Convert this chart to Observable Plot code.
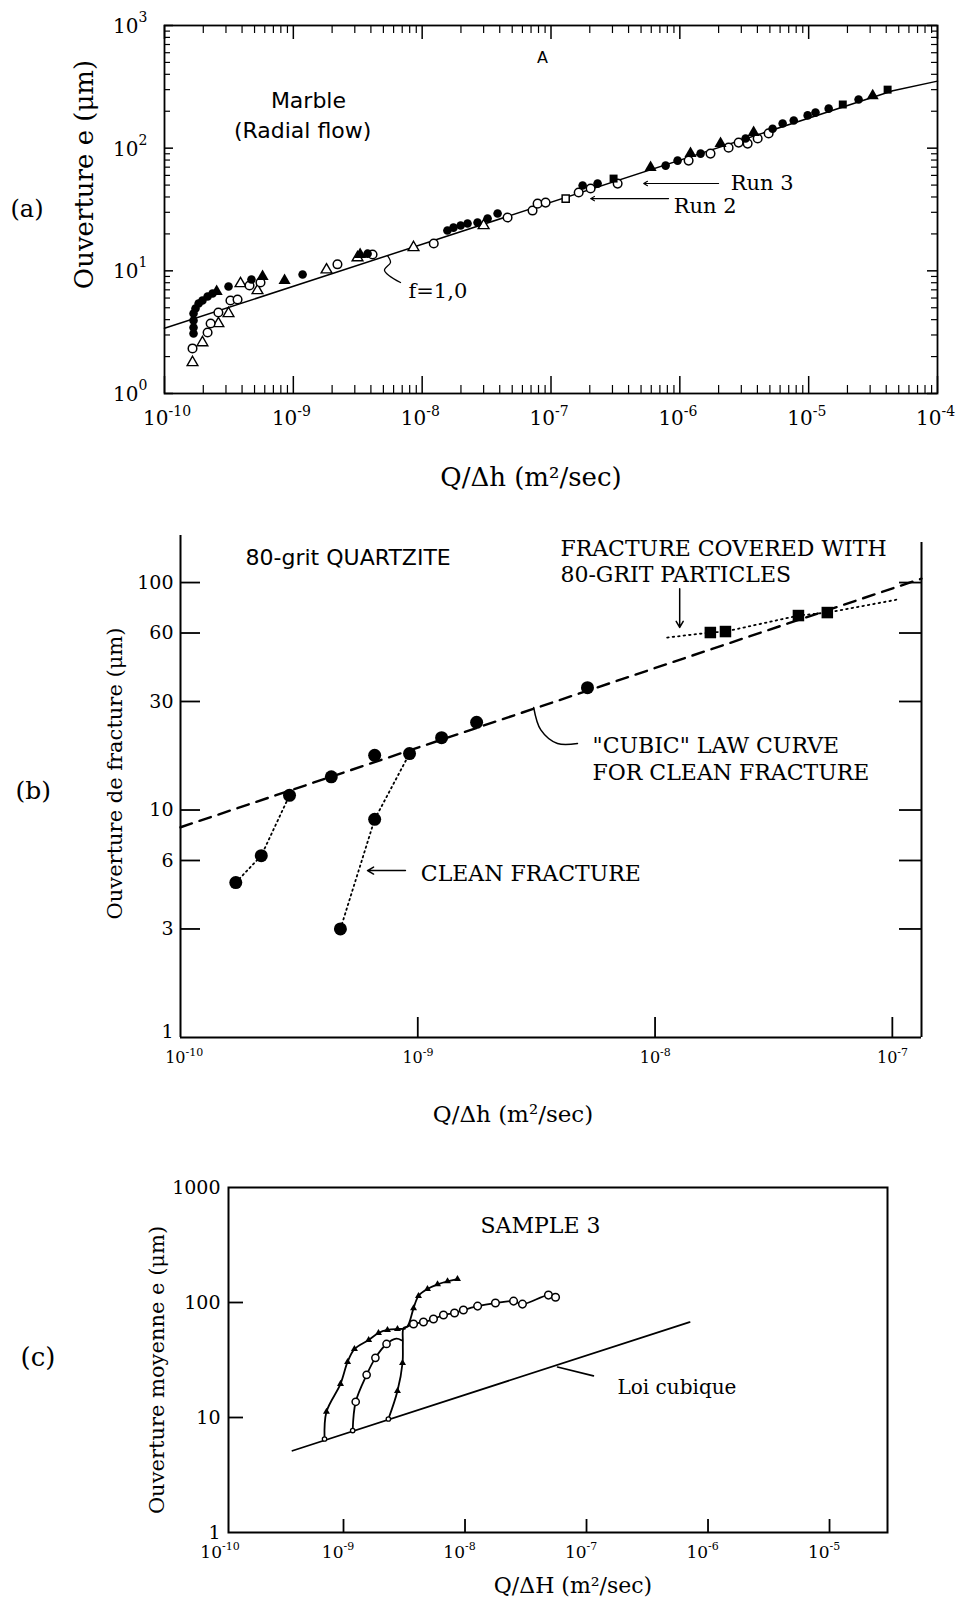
<!DOCTYPE html>
<html><head><meta charset="utf-8">
<script src="https://cdn.jsdelivr.net/npm/d3@7"></script>
<script src="https://cdn.jsdelivr.net/npm/@observablehq/plot@0.6"></script>
<style>
body{margin:0;background:#fff}
#fig{width:962px;height:1609px;background:#fff}
#fig svg{display:block;overflow:visible}
</style></head><body><div id="fig"></div>
<script>
// ---------------- Panel (a) data : Marble, radial flow ----------------
const aFilledCircleQ = [1.68e-10,1.68e-10,1.68e-10,1.68e-10,1.74e-10,1.84e-10,1.97e-10,2.16e-10,2.36e-10,3.14e-10,4.73e-10,1.18e-9,3.77e-9,1.57e-8,1.75e-8,1.99e-8,2.25e-8,2.69e-8,3.22e-8,3.85e-8,1.76e-7,2.30e-7,7.76e-7,9.61e-7,1.45e-6,3.24e-6,5.25e-6,6.28e-6,7.66e-6,9.82e-6,1.13e-5,1.43e-5,2.44e-5];
const aFilledCircleE = [3.08,3.45,3.94,4.49,4.93,5.41,5.73,6.18,6.53,7.45,8.49,9.33,13.8,21.3,22.5,23.4,24.3,24.8,26.7,29.3,49.6,51.4,72.1,79.2,90.3,120,144,159,168,185,195,210,249];
const aOpenCircleQ = [1.65e-10,2.16e-10,2.28e-10,2.62e-10,3.25e-10,3.69e-10,4.57e-10,5.56e-10,2.20e-9,4.12e-9,1.23e-8,4.6e-8,7.19e-8,7.87e-8,9.08e-8,1.64e-7,2.03e-7,3.29e-7,1.17e-6,1.73e-6,2.39e-6,2.86e-6,3.36e-6,4.02e-6,4.89e-6];
const aOpenCircleE = [2.33,3.14,3.72,4.57,5.73,5.84,7.59,8.03,11.3,13.6,16.7,27.2,31.0,35.3,36.0,43.5,46.9,51.4,79.2,90.3,101,111,109,120,132];
const aOpenTriangleQ = [1.65e-10,1.97e-10,2.62e-10,3.14e-10,3.89e-10,5.27e-10,1.81e-9,3.15e-9,8.57e-9,3.0e-8];
const aOpenTriangleE = [1.79,2.60,3.72,4.49,7.88,6.91,10.2,12.8,15.5,23.4];
const aFilledTriangleQ = [2.54e-10,5.77e-10,8.55e-10,3.3e-9,5.93e-7,1.21e-6,2.07e-6,3.74e-6,3.14e-5];
const aFilledTriangleE = [6.78,9.0,8.34,13.6,69.5,90.3,109,134,268];
const aFilledSquareQ = [3.06e-7,1.84e-5,4.1e-5];
const aFilledSquareE = [56.5,227,300];
const aOpenSquareQ = [1.30e-7];
const aOpenSquareE = [38.8];
const aFitQ = [1e-10,4.5e-5,1e-4];          // f = 1,0 curve
const aFitE = [3.4,294,352];
const aSquiggleQ = [5.38e-9,5.68e-9,5.1e-9,6.79e-9];
const aSquiggleE = [13.3,11.7,10.1,8.03];
const aXExp = [-10,-9,-8,-7,-6,-5,-4];      // tick labels 10^n
const aYExp = [0,1,2,3];

// ---------------- Panel (b) data : 80-grit quartzite ----------------
const bBranch1Q = [1.71e-10,2.19e-10,2.88e-10];
const bBranch1E = [4.8,6.3,11.6];
const bBranch2Q = [4.72e-10,6.58e-10,9.23e-10];
const bBranch2E = [3.0,9.1,17.7];
const bCleanQ = [1.71e-10,2.19e-10,2.88e-10,4.32e-10,6.58e-10,9.23e-10,1.26e-9,1.77e-9,5.19e-9,4.72e-10,6.58e-10];
const bCleanE = [4.8,6.3,11.6,14.0,17.4,17.7,20.8,24.3,34.5,3.0,9.1];
const bGritQ = [1.71e-8,1.98e-8,4.02e-8,5.32e-8];
const bGritE = [60.3,60.9,71.6,73.8];
const bGritLineQ = [1.125e-8,1.71e-8,1.98e-8,4.02e-8,5.32e-8,1.05e-7];
const bGritLineE = [57.3,60.3,60.9,71.6,73.8,84.2];
const bCubicQ = [1e-10,1.327e-7];
const bCubicE = [8.4,104];
const bCubicLeaderQ = [4.71e-9,3.88e-9,3.3e-9,3.08e-9];
const bCubicLeaderE = [19.6,19.6,22.5,28.2];
const bYTicks = [3,6,10,30,60,100];
const bYTickLabels = ["3","6","10","30","60","100"];
const bXExp = [-10,-9,-8,-7];

// ---------------- Panel (c) data : Sample 3 ----------------
const cCurve1Q = [6.98e-10,7.24e-10,9.45e-10,1.08e-9,1.23e-9,1.61e-9,1.94e-9,2.30e-9,2.78e-9,3.2e-9];
const cCurve1E = [6.5,11.2,19.6,30.4,39.4,47.2,54.3,57.7,58.8,59];
const cCurve2Q = [1.19e-9,1.26e-9,1.55e-9,1.83e-9,2.26e-9,2.72e-9,3.0e-9];
const cCurve2E = [7.7,13.7,23.5,33.0,43.6,48.5,47];
const cCurve3Q = [2.34e-9,2.78e-9,3.06e-9,3.08e-9,3.12e-9,3.37e-9,3.77e-9,4.14e-9,4.91e-9,5.94e-9,7.18e-9,8.67e-9];
const cCurve3E = [9.7,17,29.8,44.5,60,62.4,89,114,131,144,153,160];
const cOpenQ = [3.2e-9,3.77e-9,4.55e-9,5.5e-9,6.65e-9,8.2e-9,9.7e-9,1.27e-8,1.78e-8,2.51e-8,2.97e-8,4.86e-8,5.56e-8];
const cOpenE = [60,65,67.6,71.8,77.8,81,86,93,98.9,102.8,96.8,116,111];
const cCubicQ = [3.8e-10,7.05e-7];
const cCubicE = [5.14,67.6];
const cXExp = [-10,-9,-8,-7,-6,-5];
const cYTicks = [1,10,100,1000];
const cYTickLabels = ["1","10","100","1000"];

// ---------------- helpers ----------------
const SERIF = "DejaVu Serif", SANS = "DejaVu Sans";
const pts = (qs, es) => qs.map((q, i) => ({q, e: es[i]}));
const minorTicks = (lo, hi) => { const o = []; for (let p = lo; p < hi; p++) for (let k = 2; k <= 9; k++) o.push(k * 10 ** p); return o; };
const T = (o) => Object.assign({fill: "black", fontFamily: SERIF}, o);

// ================= Panel (a) =================
const A = {w: 962, h: 505, t: 25, r: 25, b: 112, l: 164};
const aW = A.w - A.l - A.r, aH = A.h - A.t - A.b;
const aXMajor = aXExp.map(d => 10 ** d), aXMinor = minorTicks(-10, -4);
const aYMajor = aYExp.map(d => 10 ** d), aYMinor = minorTicks(0, 3);
const plotA = Plot.plot({
  width: A.w, height: A.h, marginTop: A.t, marginRight: A.r, marginBottom: A.b, marginLeft: A.l,
  x: {type: "log", domain: [1e-10, 1e-4], axis: null},
  y: {type: "log", domain: [1, 1000], axis: null},
  style: {background: "white", overflow: "visible", color: "black"},
  marks: [
    Plot.frame({stroke: "black", strokeWidth: 1.8}),
    Plot.tickX(aXMajor, {x: d => d, insetTop: aH - 17, strokeWidth: 1.5}),
    Plot.tickX(aXMinor, {x: d => d, insetTop: aH - 8, strokeWidth: 1.2}),
    Plot.tickX(aXMajor, {x: d => d, insetBottom: aH - 14, strokeWidth: 1.5}),
    Plot.tickX(aXMinor, {x: d => d, insetBottom: aH - 8, strokeWidth: 1.2}),
    Plot.tickY(aYMajor, {y: d => d, insetRight: aW - 9, strokeWidth: 1.5}),
    Plot.tickY(aYMinor, {y: d => d, insetRight: aW - 6, strokeWidth: 1.2}),
    Plot.tickY(aYMajor, {y: d => d, insetLeft: aW - 10, strokeWidth: 1.5}),
    Plot.tickY(aYMinor, {y: d => d, insetLeft: aW - 6, strokeWidth: 1.2}),
    Plot.line(pts(aFitQ, aFitE), {x: "q", y: "e", stroke: "black", strokeWidth: 1.5}),
    Plot.line(pts(aSquiggleQ, aSquiggleE), {x: "q", y: "e", stroke: "black", strokeWidth: 1.3, curve: "catmull-rom"}),
    Plot.dot(pts(aOpenTriangleQ, aOpenTriangleE), {x: "q", y: "e", symbol: "triangle", r: 4, fill: "white", stroke: "black", strokeWidth: 1.4}),
    Plot.dot(pts(aOpenCircleQ, aOpenCircleE), {x: "q", y: "e", symbol: "circle", r: 4.3, fill: "white", stroke: "black", strokeWidth: 1.5}),
    Plot.dot(pts(aOpenSquareQ, aOpenSquareE), {x: "q", y: "e", symbol: "square", r: 4, fill: "white", stroke: "black", strokeWidth: 1.5}),
    Plot.dot(pts(aFilledCircleQ, aFilledCircleE), {x: "q", y: "e", symbol: "circle", r: 4.3, fill: "black"}),
    Plot.dot(pts(aFilledTriangleQ, aFilledTriangleE), {x: "q", y: "e", symbol: "triangle", r: 4.5, fill: "black"}),
    Plot.dot(pts(aFilledSquareQ, aFilledSquareE), {x: "q", y: "e", symbol: "square", r: 4.5, fill: "black"}),
    // tick labels
    Plot.text(aXExp, T({x: d => 10 ** d, frameAnchor: "bottom", dy: 31, dx: 4, text: () => "10", textAnchor: "end", fontSize: 20})),
    Plot.text(aXExp, T({x: d => 10 ** d, frameAnchor: "bottom", dy: 22, dx: 4, text: d => String(d), textAnchor: "start", fontSize: 14})),
    Plot.text(aYExp, T({y: d => 10 ** d, frameAnchor: "left", dx: -26, dy: 1, text: () => "10", textAnchor: "end", fontSize: 20})),
    Plot.text(aYExp, T({y: d => 10 ** d, frameAnchor: "left", dx: -26, dy: -8, text: d => String(d), textAnchor: "start", fontSize: 14})),
    // annotations
    Plot.text([{q: 1.31e-9, e: 244}], T({x: "q", y: "e", text: () => "Marble", fontFamily: SANS, fontSize: 22})),
    Plot.text([{q: 1.18e-9, e: 139}], T({x: "q", y: "e", text: () => "(Radial flow)", fontFamily: SANS, fontSize: 22})),
    Plot.text([{q: 8.6e-8, e: 547}], T({x: "q", y: "e", text: () => "A", fontFamily: SANS, fontSize: 16})),
    Plot.text([{q: 2.48e-6, e: 51.5}], T({x: "q", y: "e", text: () => "Run 3", textAnchor: "start", fontSize: 21})),
    Plot.text([{q: 8.95e-7, e: 33.4}], T({x: "q", y: "e", text: () => "Run 2", textAnchor: "start", fontSize: 21})),
    Plot.text([{q: 7.83e-9, e: 6.78}], T({x: "q", y: "e", text: () => "f=1,0", textAnchor: "start", fontSize: 21})),
    Plot.arrow([{q1: 2.0e-6, q2: 5.24e-7, e: 51.5}], {x1: "q1", x2: "q2", y1: "e", y2: "e", stroke: "black", strokeWidth: 1.1, headLength: 6}),
    Plot.arrow([{q1: 8.18e-7, q2: 2.03e-7, e: 38.8}], {x1: "q1", x2: "q2", y1: "e", y2: "e", stroke: "black", strokeWidth: 1.1, headLength: 6}),
    // panel / axis labels
    Plot.text(["(a)"], T({frameAnchor: "left", dx: -154, textAnchor: "start", fontSize: 24})),
    Plot.text(["Ouverture e (\u03bcm)"], T({frameAnchor: "left", dx: -80, dy: -35, rotate: -90, textAnchor: "middle", fontSize: 26})),
    Plot.text(["Q/\u0394h (m\u00b2/sec)"], T({frameAnchor: "bottom", dx: -20, dy: 92, textAnchor: "middle", fontSize: 26}))
  ]
});

// ================= Panel (b) =================
const B = {w: 962, h: 635, t: 30, r: 41, b: 103, l: 180};
const bW = B.w - B.l - B.r, bH = B.h - B.t - B.b;
const bXMax = 1.327e-7, bYMax = 161;
const plotB = Plot.plot({
  width: B.w, height: B.h, marginTop: B.t, marginRight: B.r, marginBottom: B.b, marginLeft: B.l,
  x: {type: "log", domain: [1e-10, bXMax], axis: null},
  y: {type: "log", domain: [1, bYMax], axis: null},
  style: {background: "white", overflow: "visible", color: "black"},
  marks: [
    Plot.ruleX([1e-10], {stroke: "black", strokeWidth: 2}),
    Plot.ruleX([bXMax], {y1: 1, y2: 150, stroke: "black", strokeWidth: 2}),
    Plot.ruleY([1], {stroke: "black", strokeWidth: 2.2}),
    Plot.tickY(bYTicks, {y: d => d, insetRight: bW - 20, strokeWidth: 1.8}),
    Plot.tickY(bYTicks, {y: d => d, insetLeft: bW - 22, strokeWidth: 1.8}),
    Plot.tickX(bXExp.slice(1).map(d => 10 ** d), {x: d => d, insetTop: bH - 20, strokeWidth: 1.8}),
    Plot.line(pts(bCubicQ, bCubicE), {x: "q", y: "e", stroke: "black", strokeWidth: 2.4, strokeDasharray: "12,8"}),
    Plot.line(pts(bBranch1Q, bBranch1E), {x: "q", y: "e", stroke: "black", strokeWidth: 1.8, strokeDasharray: "1.5,3.5"}),
    Plot.line(pts(bBranch2Q, bBranch2E), {x: "q", y: "e", stroke: "black", strokeWidth: 1.8, strokeDasharray: "1.5,3.5"}),
    Plot.line(pts(bGritLineQ, bGritLineE), {x: "q", y: "e", stroke: "black", strokeWidth: 1.8, strokeDasharray: "1.5,4"}),
    Plot.dot(pts(bCleanQ, bCleanE), {x: "q", y: "e", r: 6.5, fill: "black"}),
    Plot.dot(pts(bGritQ, bGritE), {x: "q", y: "e", symbol: "square", r: 6.5, fill: "black"}),
    Plot.line(pts(bCubicLeaderQ, bCubicLeaderE), {x: "q", y: "e", stroke: "black", strokeWidth: 1.5, curve: "catmull-rom"}),
    Plot.arrow([{q: 1.27e-8, e1: 94, e2: 63.5}], {x1: "q", x2: "q", y1: "e1", y2: "e2", stroke: "black", strokeWidth: 1.5, headLength: 7}),
    Plot.arrow([{q1: 8.87e-10, q2: 6.14e-10, e: 5.42}], {x1: "q1", x2: "q2", y1: "e", y2: "e", stroke: "black", strokeWidth: 1.5, headLength: 7}),
    // tick labels
    Plot.text(bYTicks, T({y: d => d, frameAnchor: "left", dx: -7, text: (d, i) => bYTickLabels[i], textAnchor: "end", fontSize: 19})),
    Plot.text(["1"], T({frameAnchor: "bottom-left", dx: -7, textAnchor: "end", fontSize: 19})),
    Plot.text(bXExp, T({x: d => 10 ** d, frameAnchor: "bottom", dy: 25, dx: 5, text: () => "10", textAnchor: "end", fontSize: 16})),
    Plot.text(bXExp, T({x: d => 10 ** d, frameAnchor: "bottom", dy: 18, dx: 5, text: d => String(d), textAnchor: "start", fontSize: 11})),
    // annotations
    Plot.text([{q: 1.88e-10, e: 128.8}], T({x: "q", y: "e", text: () => "80-grit QUARTZITE", textAnchor: "start", fontFamily: SANS, fontSize: 22})),
    Plot.text([{q: 3.99e-9, e: 141}], T({x: "q", y: "e", text: () => "FRACTURE COVERED WITH", textAnchor: "start", fontSize: 22})),
    Plot.text([{q: 3.99e-9, e: 108}], T({x: "q", y: "e", text: () => "80-GRIT PARTICLES", textAnchor: "start", fontSize: 22})),
    Plot.text([{q: 5.45e-9, e: 19.2}], T({x: "q", y: "e", text: () => "\"CUBIC\" LAW CURVE", textAnchor: "start", fontSize: 22})),
    Plot.text([{q: 5.45e-9, e: 14.5}], T({x: "q", y: "e", text: () => "FOR CLEAN FRACTURE", textAnchor: "start", fontSize: 22})),
    Plot.text([{q: 1.03e-9, e: 5.25}], T({x: "q", y: "e", text: () => "CLEAN FRACTURE", textAnchor: "start", fontSize: 22})),
    // panel / axis labels
    Plot.text(["(b)"], T({frameAnchor: "left", dx: -165, dy: 4, textAnchor: "start", fontSize: 25})),
    Plot.text(["Ouverture de fracture (\u03bcm)"], T({frameAnchor: "left", dx: -65, dy: -13, rotate: -90, textAnchor: "middle", fontSize: 21})),
    Plot.text(["Q/\u0394h (m\u00b2/sec)"], T({frameAnchor: "bottom", dx: -38, dy: 84, textAnchor: "middle", fontSize: 23}))
  ]
});

// ================= Panel (c) =================
const C = {w: 962, h: 469, t: 47, r: 75, b: 77, l: 228};
const cW = C.w - C.l - C.r, cH = C.h - C.t - C.b;
const plotC = Plot.plot({
  width: C.w, height: C.h, marginTop: C.t, marginRight: C.r, marginBottom: C.b, marginLeft: C.l,
  x: {type: "log", domain: [1.131e-10, 3.0e-5], axis: null},
  y: {type: "log", domain: [1, 1000], axis: null},
  style: {background: "white", overflow: "visible", color: "black"},
  marks: [
    Plot.frame({stroke: "black", strokeWidth: 2}),
    Plot.tickY([10, 100], {y: d => d, insetRight: cW - 15, strokeWidth: 1.8}),
    Plot.tickX(cXExp.slice(1).map(d => 10 ** d), {x: d => d, insetTop: cH - 13, strokeWidth: 1.8}),
    Plot.line(pts(cCubicQ, cCubicE), {x: "q", y: "e", stroke: "black", strokeWidth: 1.8}),
    Plot.line(pts(cCurve1Q, cCurve1E), {x: "q", y: "e", stroke: "black", strokeWidth: 1.8, curve: "catmull-rom"}),
    Plot.line(pts(cCurve2Q, cCurve2E), {x: "q", y: "e", stroke: "black", strokeWidth: 1.8, curve: "catmull-rom"}),
    Plot.line(pts(cCurve3Q, cCurve3E), {x: "q", y: "e", stroke: "black", strokeWidth: 1.8, curve: "catmull-rom"}),
    Plot.line(pts(cOpenQ, cOpenE), {x: "q", y: "e", stroke: "black", strokeWidth: 1.8, curve: "catmull-rom"}),
    Plot.dot(pts(cCurve1Q.slice(1, 9), cCurve1E.slice(1, 9)), {x: "q", y: "e", symbol: "triangle", r: 2.6, fill: "black"}),
    Plot.dot(pts(cCurve3Q.slice(1, 3).concat(cCurve3Q.slice(6)), cCurve3E.slice(1, 3).concat(cCurve3E.slice(6))), {x: "q", y: "e", symbol: "triangle", r: 2.6, fill: "black"}),
    Plot.dot(pts(cCurve2Q.slice(1, 5), cCurve2E.slice(1, 5)), {x: "q", y: "e", r: 3.6, fill: "white", stroke: "black", strokeWidth: 1.5}),
    Plot.dot(pts(cOpenQ.slice(1), cOpenE.slice(1)), {x: "q", y: "e", r: 3.8, fill: "white", stroke: "black", strokeWidth: 1.5}),
    Plot.dot(pts([cCurve1Q[0], cCurve2Q[0], cCurve3Q[0]], [cCurve1E[0], cCurve2E[0], cCurve3E[0]]), {x: "q", y: "e", r: 2.2, fill: "white", stroke: "black", strokeWidth: 1.3}),
    Plot.line(pts([5.77e-8, 1.14e-7], [27.5, 23.0]), {x: "q", y: "e", stroke: "black", strokeWidth: 1.6}),
    // tick labels
    Plot.text(cYTicks, T({y: d => d, frameAnchor: "left", dx: -8, text: (d, i) => cYTickLabels[i], textAnchor: "end", fontSize: 19})),
    Plot.text(cXExp, T({x: d => 10 ** d, frameAnchor: "bottom", dy: 25, dx: 0, text: () => "10", textAnchor: "end", fontSize: 17})),
    Plot.text(cXExp, T({x: d => 10 ** d, frameAnchor: "bottom", dy: 17, dx: 0, text: d => String(d), textAnchor: "start", fontSize: 11})),
    // annotations
    Plot.text([{q: 4.18e-8, e: 460}], T({x: "q", y: "e", text: () => "SAMPLE 3", fontSize: 22})),
    Plot.text([{q: 1.80e-7, e: 18.1}], T({x: "q", y: "e", text: () => "Loi cubique", textAnchor: "start", fontSize: 20})),
    // panel / axis labels
    Plot.text(["(c)"], T({frameAnchor: "left", dx: -208, dy: -2, textAnchor: "start", fontSize: 26})),
    Plot.text(["Ouverture moyenne e (\u03bcm)"], T({frameAnchor: "left", dx: -71, dy: 10, rotate: -90, textAnchor: "middle", fontSize: 21})),
    Plot.text(["Q/\u0394H (m\u00b2/sec)"], T({frameAnchor: "bottom", dx: 15, dy: 60, textAnchor: "middle", fontSize: 22}))
  ]
});

const fig = document.getElementById("fig");
fig.append(plotA, plotB, plotC);
</script></body></html>
